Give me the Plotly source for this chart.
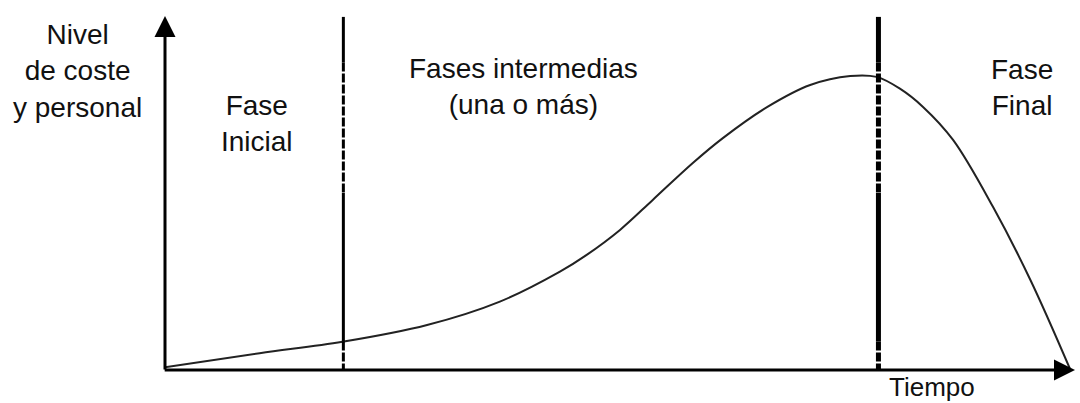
import plotly.graph_objects as go

# Curve: time (0-100) vs level of cost & staff (0-120 scale)
tiempo = [0, 10.4, 19.5, 28.8, 36.8, 43.4, 46.3, 50.0, 53.6, 58.0, 61.3, 66.2,
          70.9, 75.3, 78.2, 80.8, 83.3, 86.6, 91.0, 95.1, 99.5]
nivel = [0.9, 5.6, 9.4, 15.0, 22.8, 32.8, 38.3, 46.7, 56.7, 69.0, 77.3, 87.7,
         95.0, 98.0, 97.7, 93.7, 87.7, 76.7, 54.3, 30.0, 0.0]

# Phase boundaries (time)
limites = [19.6, 78.4]
anchos = [3, 5]
fases = ["Fase<br>Inicial", "Fases intermedias<br>(una o más)", "Fase<br>Final"]
fases_x = [10.1, 39.4, 94.2]
fases_y = [82.2, 94.5, 94.2]
eje_y_titulo = "Nivel<br>de coste<br>y personal"
eje_x_titulo = "Tiempo"

FONT = "Liberation Sans, Arial, sans-serif"
INK = "#111111"
FS = 28

fig = go.Figure()
fig.add_trace(go.Scatter(x=tiempo, y=nivel, mode="lines",
                         line=dict(color="#222222", width=2, shape="spline", smoothing=1.0),
                         hoverinfo="skip", showlegend=False))

# Vertical phase lines: solid / dashed segments
ytop, ybot = 117.7, -1.7
for xb, w in zip(limites, anchos):
    segs = [(ytop, 102.5, "solid"), (102.5, 59.0, "9px,2px"),
            (59.0, 9.5, "solid"), (9.5, ybot, "9px,2px")]
    for y0, y1, d in segs:
        fig.add_shape(type="line", xref="x", yref="y", x0=xb, x1=xb, y0=y0, y1=y1,
                      line=dict(color="black", width=w, dash=d))

# Axes with arrows (in axis-domain coordinates)
fig.add_annotation(x=0, y=118 / 120, ax=0, ay=-0.003, xref="x domain", yref="y domain",
                   axref="x domain", ayref="y domain",
                   showarrow=True, arrowhead=2, arrowsize=1.4, arrowwidth=3,
                   arrowcolor="black", text="")
fig.add_annotation(x=1.0, y=0, ax=-0.002, ay=0, xref="x domain", yref="y domain",
                   axref="x domain", ayref="y domain",
                   showarrow=True, arrowhead=2, arrowsize=1.4, arrowwidth=3,
                   arrowcolor="black", text="")

for txt, xx, yy in zip(fases, fases_x, fases_y):
    fig.add_annotation(x=xx, y=yy, xref="x", yref="y", text=txt, showarrow=False,
                       xanchor="center", yanchor="middle",
                       font=dict(family=FONT, size=FS, color=INK), align="center")

# Labels outside the plotting area (paper coordinates)
fig.add_annotation(x=(77 - 165) / 910, y=(370 - 71.5) / 360,
                   xref="paper", yref="paper", text=eje_y_titulo, showarrow=False,
                   xanchor="center", yanchor="middle",
                   font=dict(family=FONT, size=FS, color=INK), align="center")
fig.add_annotation(x=(932 - 165) / 910, y=(370 - 387) / 360,
                   xref="paper", yref="paper", text=eje_x_titulo, showarrow=False,
                   xanchor="center", yanchor="middle",
                   font=dict(family=FONT, size=26, color=INK), align="center")

fig.update_layout(
    width=1080, height=403,
    margin=dict(l=165, r=5, t=10, b=33),
    paper_bgcolor="white", plot_bgcolor="white",
    xaxis=dict(range=[0, 100], visible=False, fixedrange=True),
    yaxis=dict(range=[0, 120], visible=False, fixedrange=True),
    showlegend=False,
)

fig.write_html("out.html", config={"displayModeBar": False},
               post_script="document.body.style.margin='0';")
